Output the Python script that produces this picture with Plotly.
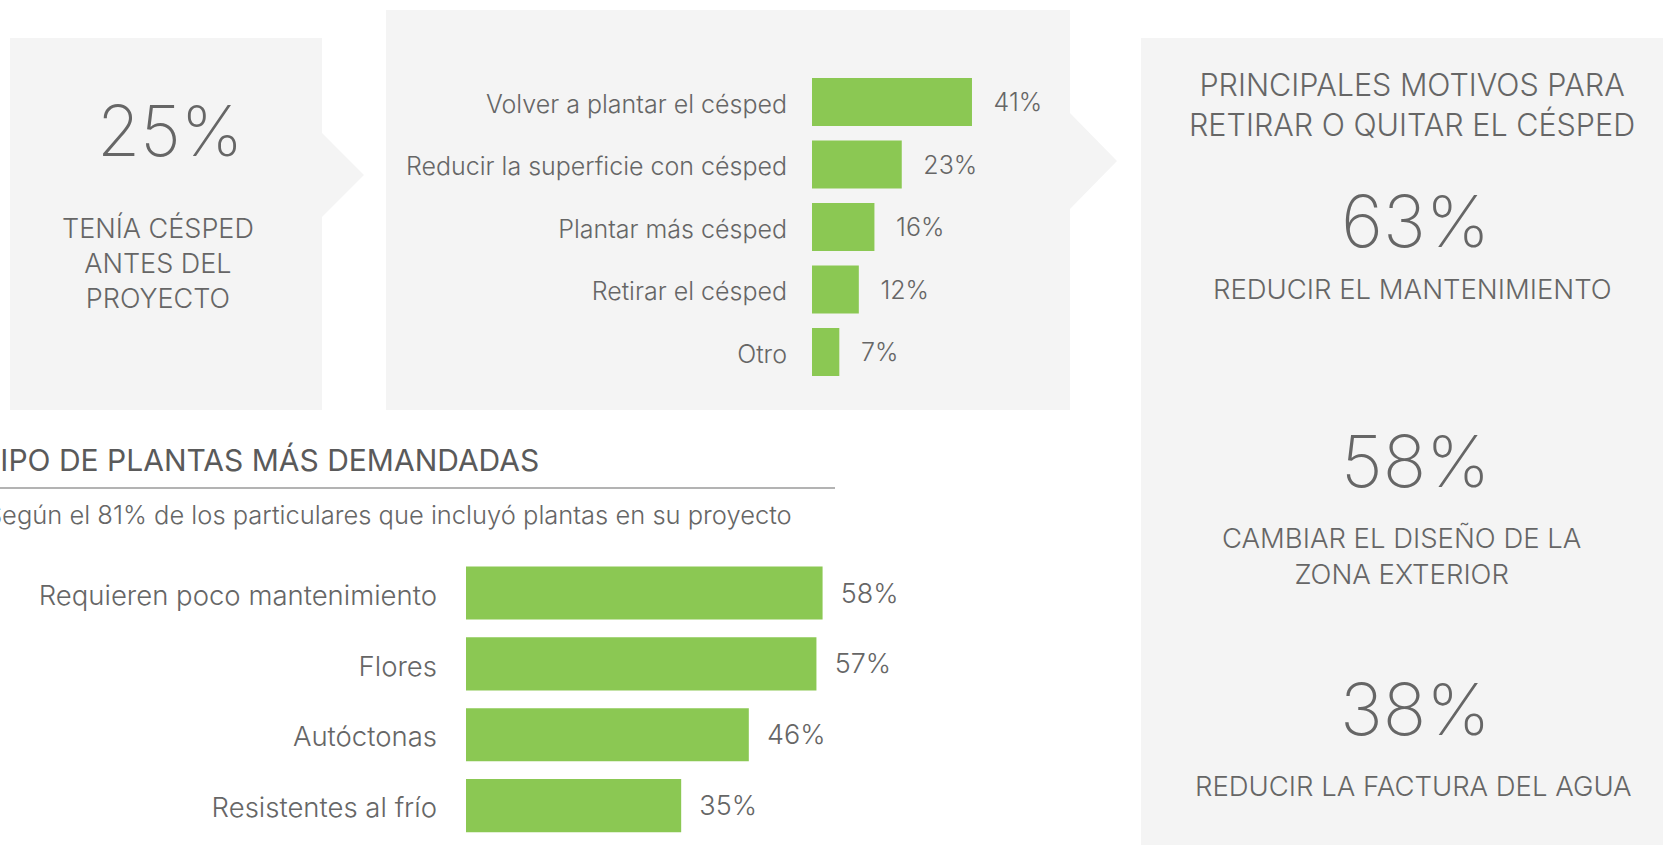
import plotly.graph_objects as go

# ---------------- data ----------------
top_categories = ["Volver a plantar el césped", "Reducir la superficie con césped",
                  "Plantar más césped", "Retirar el césped", "Otro"]
top_values = [41, 23, 16, 12, 7]

bottom_categories = ["Requieren poco mantenimiento", "Flores", "Autóctonas", "Resistentes al frío"]
bottom_values = [58, 57, 46, 35]

lawn_share = "25%"
lawn_label = "TENÍA CÉSPED<br>ANTES DEL<br>PROYECTO"

motives_title = "PRINCIPALES MOTIVOS PARA<br>RETIRAR O QUITAR EL CÉSPED"
motive_values = ["63%", "58%", "38%"]
motive_labels = ["REDUCIR EL MANTENIMIENTO", "CAMBIAR EL DISEÑO DE LA<br>ZONA EXTERIOR",
                 "REDUCIR LA FACTURA DEL AGUA"]

plants_title = "TIPO DE PLANTAS MÁS DEMANDADAS"
plants_subtitle = "Según el 81% de los particulares que incluyó plantas en su proyecto"

# ---------------- style ----------------
W, H = 1663, 845
GREEN = "#8bc853"
BOX = "#f4f4f4"
TXT = "#666666"
FONT = "Inter"
BIGFONT = "Inter"
NB = "\u00a0"
THIN = "\u2009"


def fx(x):
    return x / W


def fy(y):
    return 1 - y / H


fig = go.Figure()

fig.add_trace(go.Bar(
    x=top_values, y=top_categories, orientation="h",
    marker=dict(color=GREEN, line=dict(width=0)), width=0.77,
    text=[NB * 2 + THIN + f"{v}%" for v in top_values], textposition="outside",
    outsidetextfont=dict(family=FONT, size=25, color=TXT, weight=300),
    cliponaxis=False, constraintext="none",
    xaxis="x", yaxis="y", hoverinfo="skip", showlegend=False,
))

fig.add_trace(go.Bar(
    x=bottom_values, y=bottom_categories, orientation="h",
    marker=dict(color=GREEN, line=dict(width=0)), width=0.75,
    text=[NB * 2 + f"{v}%" for v in bottom_values], textposition="outside",
    outsidetextfont=dict(family=FONT, size=27, color=TXT, weight=300),
    cliponaxis=False, constraintext="none",
    xaxis="x2", yaxis="y2", hoverinfo="skip", showlegend=False,
))

shapes = []
# box 1 with arrow
p1 = [(10, 38), (322, 38), (322, 133), (364, 175), (322, 217), (322, 410), (10, 410)]
# box 2 with arrow
p2 = [(386, 10), (1070, 10), (1070, 113), (1117, 161), (1070, 209), (1070, 410), (386, 410)]
for pts in (p1, p2):
    path = "M " + " L ".join(f"{fx(a):.5f},{fy(b):.5f}" for a, b in pts) + " Z"
    shapes.append(dict(type="path", path=path, xref="paper", yref="paper",
                       fillcolor=BOX, line=dict(width=0), layer="below"))
shapes.append(dict(type="rect", xref="paper", yref="paper", x0=fx(1141), x1=1, y0=0, y1=fy(38),
                   fillcolor=BOX, line=dict(width=0), layer="below"))
shapes.append(dict(type="line", xref="paper", yref="paper", x0=0, x1=fx(835), y0=fy(488), y1=fy(488),
                   line=dict(color="#9a9a9a", width=1.5)))

ann = []


def add_text(text, x, y, size, weight=300, xanchor="center", color=TXT, family=FONT):
    ann.append(dict(text=text, x=fx(x), y=fy(y), xref="paper", yref="paper",
                    xanchor=xanchor, yanchor="middle", showarrow=False, align="center",
                    font=dict(family=family, size=size, color=color, weight=weight)))


add_text(lawn_share, 170, 130, 70, weight=200, family=BIGFONT)
add_text(lawn_label, 158, 263, 27)
add_text(motives_title, 1412, 104, 30.5)
motive_num_y = [220, 460, 708]
motive_lab_y = [289, 556, 786]
motive_lab_x = [1412, 1401, 1413]
for v, l, yn, yl, xl in zip(motive_values, motive_labels, motive_num_y, motive_lab_y, motive_lab_x):
    add_text(v, 1415, yn, 72, weight=200, family=BIGFONT)
    add_text(l, xl, yl, 27.5)
add_text(plants_title, 541, 460, 30, weight=400, xanchor="right", color="#5a5a5a")
add_text(plants_subtitle, 794, 514, 25.5, weight=300, xanchor="right")

axis_common = dict(showgrid=False, zeroline=False, showline=False)
fig.update_layout(
    width=W, height=H, margin=dict(l=0, r=0, t=0, b=0),
    paper_bgcolor="white", plot_bgcolor="rgba(0,0,0,0)",
    shapes=shapes, annotations=ann, showlegend=False,
    xaxis=dict(domain=[fx(812), fx(812 + 50 * 3.902)], range=[0, 50], visible=False, **axis_common),
    yaxis=dict(domain=[fy(383.25), fy(70.75)], anchor="x", type="category",
               categoryorder="array", categoryarray=top_categories,
               range=[len(top_categories) - 0.5, -0.5], ticks="", ticklabelstandoff=24,
               ticklabelshift=-2,
               tickfont=dict(family=FONT, size=25, color=TXT, weight=300), **axis_common),
    xaxis2=dict(domain=[fx(466), fx(466 + 70 * 6.148)], range=[0, 70], visible=False,
                anchor="y2", **axis_common),
    yaxis2=dict(domain=[fy(841), fy(557.6)], anchor="x2", type="category",
                categoryorder="array", categoryarray=bottom_categories,
                range=[len(bottom_categories) - 0.5, -0.5], ticks="", ticklabelstandoff=28,
                ticklabelshift=-2,
                tickfont=dict(family=FONT, size=27.5, color=TXT, weight=300), **axis_common),
)

fig.write_html("out.html", config={"displayModeBar": False},
               post_script="document.body.style.margin='0';document.body.style.overflow='hidden';")
